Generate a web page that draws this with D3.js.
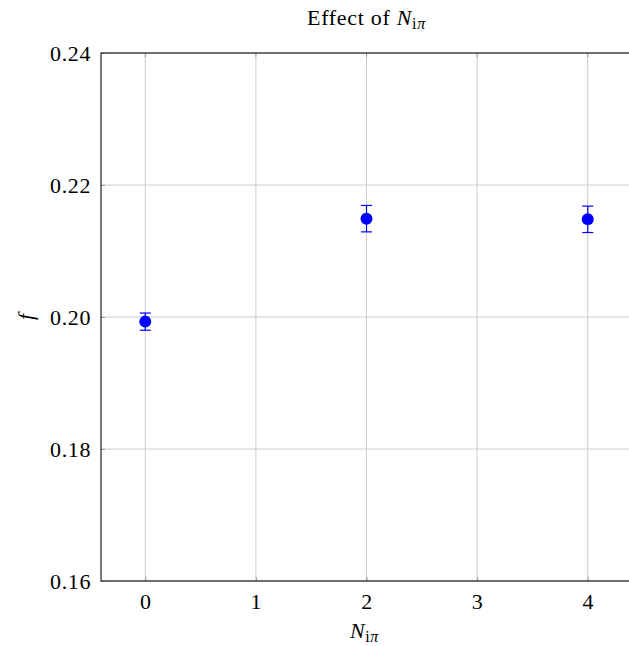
<!DOCTYPE html>
<html><head><meta charset="utf-8">
<script src="https://cdn.jsdelivr.net/npm/d3@7"></script>
<style>body{margin:0;background:#fff}svg{display:block}text{font-family:"Liberation Serif","DejaVu Serif",serif;fill:#000}</style>
</head><body>
<script>
const xValues = [0, 2, 4];
const yValues = [0.1993, 0.2149, 0.2148];
const yErrors = [0.0013, 0.0020, 0.0020];
const xTicks = [0, 1, 2, 3, 4];
const yTicks = [0.16, 0.18, 0.20, 0.22, 0.24];

const W = 629, H = 646;
const svg = d3.select("body").append("svg").attr("width", W).attr("height", H);
const L = 101, R = 632, T = 53, B = 581;
const x = d3.scaleLinear().domain([-0.4, 4.4]).range([L, R]);
const y = d3.scaleLinear().domain([0.16, 0.24]).range([B, T]);

// grid
svg.append("g").selectAll("line").data(xTicks).join("line")
  .attr("x1", d => x(d)).attr("x2", d => x(d)).attr("y1", T).attr("y2", B)
  .attr("stroke", "#cccccc").attr("stroke-width", 1);
svg.append("g").selectAll("line").data(yTicks).join("line")
  .attr("y1", d => y(d)).attr("y2", d => y(d)).attr("x1", L).attr("x2", R)
  .attr("stroke", "#cccccc").attr("stroke-width", 1);

// axes (ticks inside)
const fmt = d3.format(".2f");
const xAxis = d3.axisBottom(x).tickValues(xTicks).tickSize(-4).tickPadding(14).tickFormat(d3.format("d"));
const yAxis = d3.axisLeft(y).tickValues(yTicks).tickSize(-4).tickPadding(14).tickFormat(fmt);
const gx = svg.append("g").attr("transform", `translate(0,${B})`).call(xAxis);
const gy = svg.append("g").attr("transform", `translate(${L},0)`).call(yAxis);
[gx, gy].forEach(g => {
  g.select(".domain").remove();
  g.selectAll(".tick line").attr("stroke", "#999");
  g.selectAll(".tick text").style("font-size", "22px").style("letter-spacing", "0.6px").attr("fill", "#000");
});
gx.selectAll(".tick text").attr("dy", "0.71em").attr("y", 12);
gy.selectAll(".tick text").attr("x", -10);
// top ticks
svg.append("g").selectAll("line").data(xTicks).join("line")
  .attr("x1", d => x(d)).attr("x2", d => x(d)).attr("y1", T).attr("y2", T + 4)
  .attr("stroke", "#999");

// frame
svg.append("rect").attr("x", L).attr("y", T).attr("width", R - L).attr("height", B - T)
  .attr("fill", "none").attr("stroke", "#222").attr("stroke-width", 1.2);

// error bars
const eb = svg.append("g").attr("stroke", "#0000ff").attr("stroke-width", 1.2);
xValues.forEach((xv, i) => {
  const cx = x(xv), y0 = y(yValues[i] - yErrors[i]), y1 = y(yValues[i] + yErrors[i]);
  eb.append("line").attr("x1", cx).attr("x2", cx).attr("y1", y0).attr("y2", y1);
  eb.append("line").attr("x1", cx - 5.5).attr("x2", cx + 5.5).attr("y1", y0).attr("y2", y0);
  eb.append("line").attr("x1", cx - 5.5).attr("x2", cx + 5.5).attr("y1", y1).attr("y2", y1);
});
svg.append("g").selectAll("circle").data(xValues).join("circle")
  .attr("cx", d => x(d)).attr("cy", (d, i) => y(yValues[i])).attr("r", 6)
  .attr("fill", "#0000ff");

// title
const title = svg.append("text").attr("x", (L + R) / 2).attr("y", 25).attr("text-anchor", "middle")
  .style("font-size", "22px").style("letter-spacing", "0.7px");
title.append("tspan").text("Effect of ");
title.append("tspan").attr("font-style", "italic").text("N");
title.append("tspan").attr("dy", 4).style("font-size", "16px").text("i");
title.append("tspan").attr("font-style", "italic").style("font-size", "16px").text("π");

// x label
const xl = svg.append("text").attr("x", (L + R) / 2 - 2).attr("y", 638).attr("text-anchor", "middle")
  .style("font-size", "22px").style("letter-spacing", "0.6px");
xl.append("tspan").attr("font-style", "italic").text("N");
xl.append("tspan").attr("dy", 4).style("font-size", "16px").text("i");
xl.append("tspan").attr("font-style", "italic").style("font-size", "16px").text("π");

// y label
svg.append("text").attr("transform", `translate(33,${(T + B) / 2}) rotate(-90)`)
  .attr("text-anchor", "middle").attr("font-style", "italic").style("font-size", "22px").text("f");
</script>
</body></html>
